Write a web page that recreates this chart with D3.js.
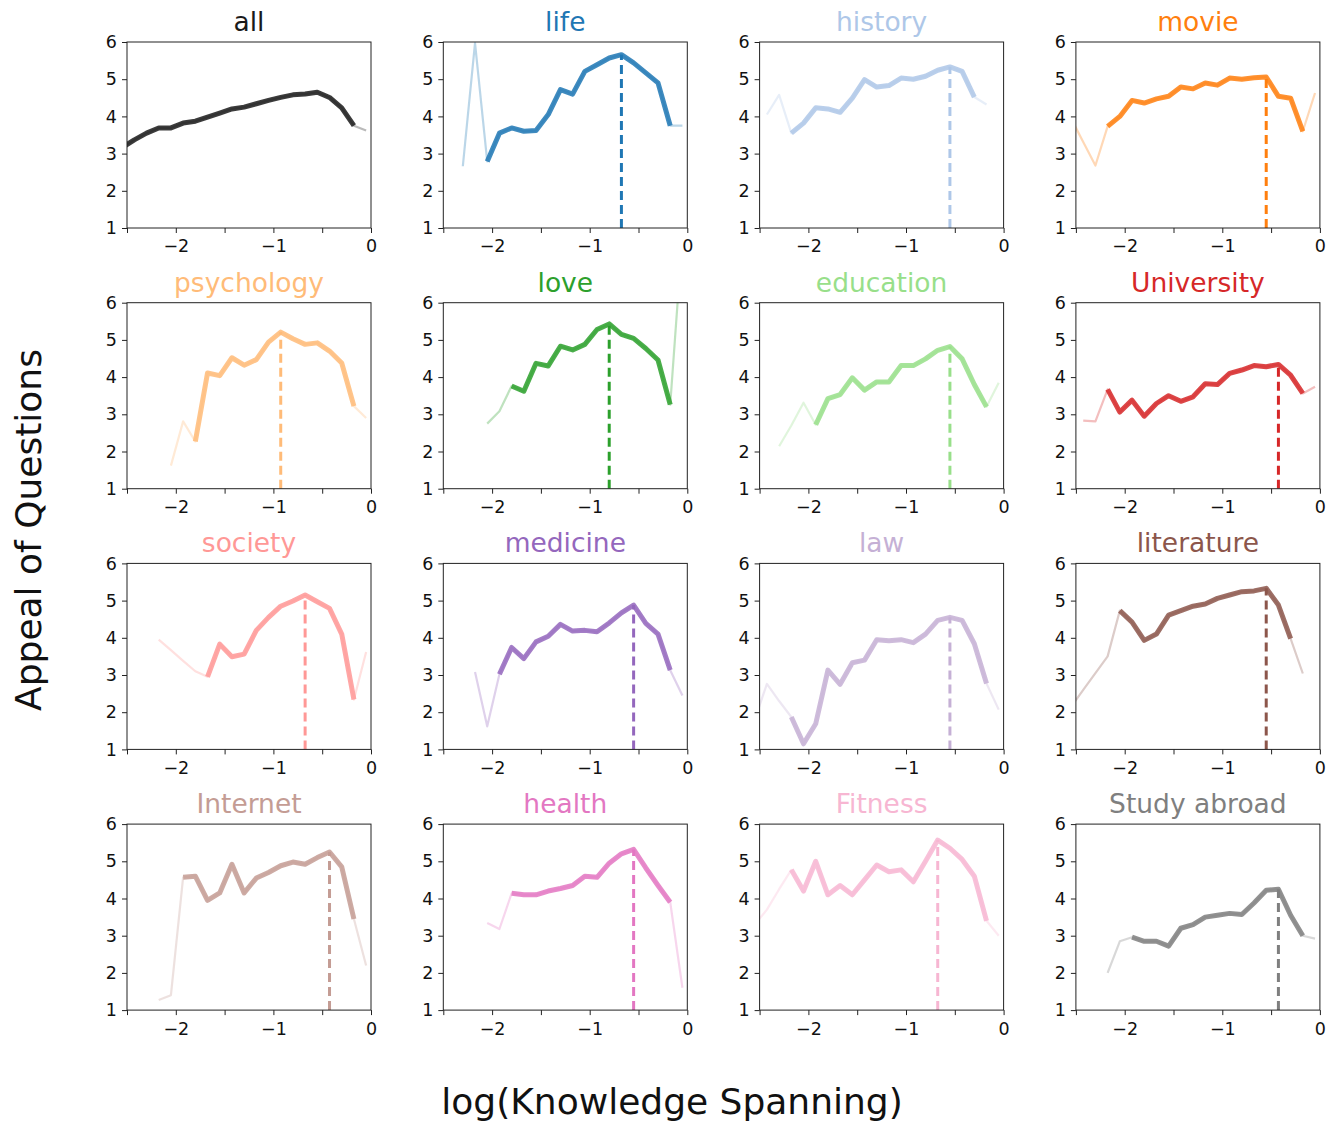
<!DOCTYPE html>
<html>
  <head>
    <meta charset="utf-8" />
    <script src="https://d3js.org/d3.v7.min.js"></script>
    <style>
      body { margin: 0; background: #fff; }
      text { font-family: "DejaVu Sans", sans-serif; }
    </style>
  </head>
  <body>
    <svg id="viz"></svg>
    <script>
      // bin centres of log(knowledge spanning)
      var xGrid = [-2.55, -2.425, -2.3, -2.175, -2.05, -1.925, -1.8, -1.675, -1.55, -1.425, -1.3,
                   -1.175, -1.05, -0.925, -0.8, -0.675, -0.55, -0.425, -0.3, -0.175, -0.05];

      var topics = ["all", "life", "history", "movie", "psychology", "love", "education", "University",
                    "society", "medicine", "law", "literature", "Internet", "health", "Fitness", "Study abroad"];

      var colors = ["#1a1a1a", "#1f77b4", "#aec7e8", "#ff7f0e", "#ffbb78", "#2ca02c", "#98df8a", "#d62728",
                    "#ff9896", "#9467bd", "#c5b0d5", "#8c564b", "#c49c94", "#e377c2", "#f7b6d2", "#7f7f7f"];

      // appeal per bin (null = empty bin)
      var appeal = [
        [3.16, 3.37, 3.55, 3.69, 3.69, 3.82, 3.87, 3.98, 4.09, 4.2, 4.25, 4.34, 4.43, 4.51, 4.58, 4.6, 4.65, 4.51, 4.23, 3.75, 3.62],
        [null, null, 2.66, 5.97, 2.79, 3.55, 3.69, 3.6, 3.62, 4.05, 4.72, 4.6, 5.21, 5.39, 5.57, 5.66, 5.44, 5.17, 4.9, 3.75, 3.75],
        [null, 4.05, 4.58, 3.55, 3.82, 4.23, 4.2, 4.11, 4.49, 4.99, 4.79, 4.83, 5.03, 5.0, 5.08, 5.24, 5.33, 5.21, 4.52, 4.32, null],
        [3.95, 3.31, 2.68, 3.73, 4.0, 4.43, 4.36, 4.47, 4.54, 4.79, 4.74, 4.9, 4.84, 5.03, 5.0, 5.04, 5.06, 4.54, 4.49, 3.6, 4.63],
        [null, null, null, null, 1.62, 2.81, 2.27, 4.11, 4.04, 4.52, 4.32, 4.47, 4.94, 5.21, 5.03, 4.88, 4.92, 4.7, 4.38, 3.22, 2.9],
        [null, null, null, null, 2.75, 3.08, 3.76, 3.62, 4.37, 4.3, 4.83, 4.73, 4.88, 5.28, 5.43, 5.15, 5.04, 4.77, 4.46, 3.26, 7.8],
        [null, null, 2.14, 2.7, 3.31, 2.72, 3.42, 3.53, 3.98, 3.65, 3.87, 3.87, 4.31, 4.31, 4.49, 4.72, 4.82, 4.49, 3.8, 3.2, 3.85],
        [null, 2.83, 2.81, 3.67, 3.06, 3.38, 2.95, 3.29, 3.5, 3.35, 3.47, 3.82, 3.8, 4.1, 4.19, 4.31, 4.28, 4.34, 4.05, 3.56, 3.74],
        [null, null, null, 3.95, 3.67, 3.38, 3.1, 2.95, 3.83, 3.49, 3.56, 4.2, 4.55, 4.85, 4.99, 5.15, 4.97, 4.79, 4.1, 2.34, 3.62],
        [null, null, null, 3.08, 1.62, 3.02, 3.74, 3.44, 3.89, 4.04, 4.36, 4.18, 4.2, 4.16, 4.4, 4.67, 4.88, 4.39, 4.1, 3.13, 2.45],
        [1.8, 2.76, 2.3, 1.87, 1.15, 1.69, 3.13, 2.75, 3.33, 3.4, 3.95, 3.92, 3.95, 3.87, 4.1, 4.47, 4.55, 4.47, 3.84, 2.77, 2.07],
        [2.14, 2.6, 3.05, 3.5, 4.73, 4.42, 3.93, 4.1, 4.61, 4.73, 4.85, 4.91, 5.06, 5.15, 5.24, 5.26, 5.33, 4.88, 3.98, 3.04, null],
        [null, null, null, 1.27, 1.4, 4.57, 4.6, 3.95, 4.15, 4.92, 4.15, 4.55, 4.7, 4.88, 4.98, 4.92, 5.1, 5.25, 4.85, 3.45, 2.2],
        [null, null, null, null, 3.34, 3.18, 4.14, 4.1, 4.1, 4.2, 4.27, 4.35, 4.6, 4.57, 4.95, 5.2, 5.32, 4.82, 4.35, 3.9, 1.6],
        [3.3, 3.7, 4.25, 4.77, 4.2, 5.0, 4.1, 4.35, 4.1, 4.5, 4.9, 4.72, 4.77, 4.45, 5.0, 5.57, 5.35, 5.05, 4.6, 3.4, 3.0],
        [null, null, null, 2.0, 2.85, 2.96, 2.85, 2.85, 2.72, 3.2, 3.3, 3.5, 3.55, 3.6, 3.57, 3.88, 4.22, 4.25, 3.55, 3.0, 2.92]
      ];

      // first and last bin index with enough questions (drawn bold)
      var strongRange = [[0, 19], [4, 19], [3, 18], [3, 19], [6, 19], [6, 19], [5, 19], [3, 19],
                         [7, 19], [5, 19], [3, 19], [4, 18], [5, 19], [6, 19], [3, 19], [5, 19]];

      var showPeak = topics.map(function(t) { return t !== "all"; });

      var yTicks = [1, 2, 3, 4, 5, 6];
      var xTicks = [-2.5, -2, -1.5, -1, -0.5, 0];

      var W = 1334, H = 1121;
      var svg = d3.select("#viz").attr("width", W).attr("height", H);

      var pw = 244, ph = 186;
      var x0 = 127, y0 = 42, dx = 316.3, dy = 260.7;

      var x = d3.scaleLinear().domain([-2.5, 0]).range([0, pw]);
      var y = d3.scaleLinear().domain([1, 6]).range([ph, 0]);

      var line = d3.line()
          .defined(function(d) { return d.v !== null; })
          .x(function(d) { return x(d.x); })
          .y(function(d) { return y(d.v); });

      topics.forEach(function(name, i) {
        var col = i % 4, row = Math.floor(i / 4);
        var g = svg.append("g")
            .attr("transform", "translate(" + (x0 + col * dx) + "," + (y0 + row * dy) + ")");

        g.append("clipPath").attr("id", "clip" + i)
          .append("rect").attr("width", pw).attr("height", ph);

        var pts = xGrid.map(function(xv, k) { return {x: xv, v: appeal[i][k]}; });
        var r = strongRange[i];
        var strong = pts.slice(r[0], r[1] + 1);
        var c = colors[i];

        var plot = g.append("g").attr("clip-path", "url(#clip" + i + ")");

        plot.append("path")
            .attr("d", line(pts))
            .attr("fill", "none")
            .attr("stroke", c)
            .attr("stroke-opacity", 0.3)
            .attr("stroke-width", 2.2)
            .attr("stroke-linejoin", "round");

        plot.append("path")
            .attr("d", line(strong))
            .attr("fill", "none")
            .attr("stroke", c)
            .attr("stroke-opacity", 0.85)
            .attr("stroke-width", 5)
            .attr("stroke-linejoin", "round");

        if (showPeak[i]) {
          var peak = d3.greatest(strong, function(d) { return d.v; });
          plot.append("line")
              .attr("x1", x(peak.x)).attr("x2", x(peak.x))
              .attr("y1", y(1)).attr("y2", y(peak.v))
              .attr("stroke", c)
              .attr("stroke-width", 3)
              .attr("stroke-dasharray", "9,5");
        }

        var xAxis = d3.axisBottom(x).tickValues(xTicks).tickSize(5).tickSizeOuter(0).tickPadding(7)
            .tickFormat(function(d) { return Number.isInteger(d) ? d3.format("d")(d) : ""; });
        var yAxis = d3.axisLeft(y).tickValues(yTicks).tickSize(5).tickSizeOuter(0).tickPadding(5)
            .tickFormat(d3.format("d"));

        var ga = g.append("g").attr("transform", "translate(0," + ph + ")").call(xAxis);
        var gb = g.append("g").call(yAxis);
        [ga, gb].forEach(function(a) {
          a.select(".domain").remove();
          a.selectAll("line").attr("stroke", "#222");
          a.selectAll("text").attr("font-size", 17.5).attr("fill", "#111")
              .attr("font-family", "DejaVu Sans, sans-serif");
        });

        g.append("rect")
            .attr("width", pw).attr("height", ph)
            .attr("fill", "none")
            .attr("stroke", "#222")
            .attr("stroke-width", 1);

        g.append("text")
            .attr("x", pw / 2).attr("y", -11)
            .attr("text-anchor", "middle")
            .attr("font-size", 26.5)
            .attr("fill", c)
            .text(name);
      });

      svg.append("text")
          .attr("transform", "translate(41,530) rotate(-90)")
          .attr("text-anchor", "middle")
          .attr("font-size", 36)
          .attr("fill", "#111")
          .text("Appeal of Questions");

      svg.append("text")
          .attr("x", 672).attr("y", 1114)
          .attr("text-anchor", "middle")
          .attr("font-size", 36)
          .attr("fill", "#111")
          .text("log(Knowledge Spanning)");
    </script>
  </body>
</html>
